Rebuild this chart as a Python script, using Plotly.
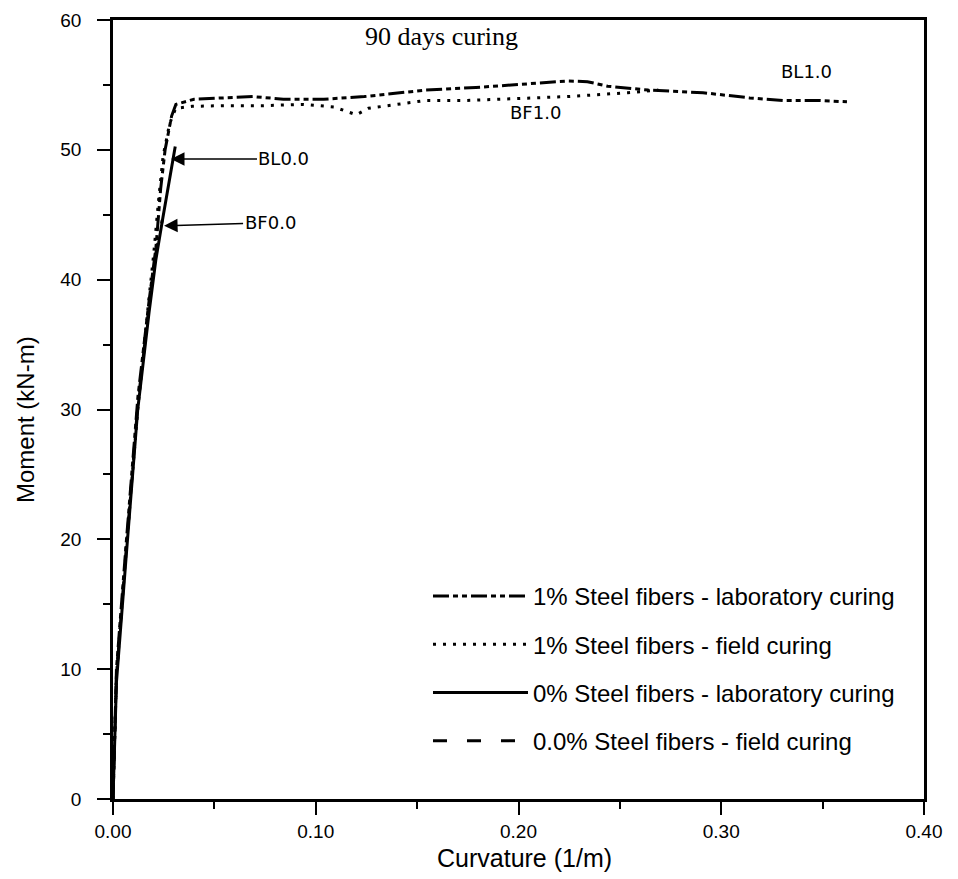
import plotly.graph_objects as go

# ---- data (corrected for the slight tilt of the scan) ----
bl1_x = [0, 0.0017, 0.0064, 0.0123, 0.0179, 0.0212, 0.0235, 0.0257, 0.0289, 0.0310, 0.040,
         0.054, 0.069, 0.084, 0.104, 0.124, 0.154, 0.179, 0.204, 0.224, 0.234, 0.244, 0.264,
         0.291, 0.314, 0.331, 0.349, 0.362]
bl1_y = [0, 10, 19.5, 31, 38.5, 42.5, 47, 50, 52.6, 53.5, 53.9, 54.0, 54.1, 53.9, 53.9, 54.1,
         54.6, 54.8, 55.1, 55.3, 55.25, 54.9, 54.6, 54.4, 54.0, 53.8, 53.8, 53.7]

bf1_x = [0, 0.0017, 0.0064, 0.0122, 0.0167, 0.0201, 0.0224, 0.0247, 0.0279, 0.0309, 0.039,
         0.054, 0.074, 0.094, 0.109, 0.116, 0.120, 0.126, 0.139, 0.154, 0.174, 0.194, 0.224,
         0.254, 0.269]
bf1_y = [0, 9.5, 19, 30, 37, 42, 46, 49.5, 52, 53.2, 53.35, 53.4, 53.4, 53.5, 53.3, 52.9, 52.7,
         53.2, 53.5, 53.8, 53.8, 53.9, 54.1, 54.4, 54.6]

bl0_x = [0, 0.0017, 0.0064, 0.0122, 0.0178, 0.0211, 0.0243, 0.0275, 0.0307]
bl0_y = [0, 9, 18.5, 30, 37.5, 41.5, 44.5, 47.5, 50.25]

bf0_x = [0, 0.0017, 0.0064, 0.0123, 0.0178, 0.0211, 0.0243]
bf0_y = [0, 9.5, 19, 30.5, 38, 42, 44.6]

series_names = [
    "1% Steel fibers - laboratory curing",
    "1% Steel fibers - field curing",
    "0% Steel fibers - laboratory curing",
    "0.0% Steel fibers - field curing",
]

x_ticks = [0.0, 0.1, 0.2, 0.3, 0.4]
x_tick_labels = ["0.00", "0.10", "0.20", "0.30", "0.40"]
y_ticks = [0, 10, 20, 30, 40, 50, 60]

fig = go.Figure()
styles = [
    dict(dash="16px,4px,5px,4px,5px,4px", width=3),
    dict(dash="3px,7px", width=3),
    dict(dash="solid", width=3),
    dict(dash="14px,20px", width=3),
]
data = [(bl1_x, bl1_y), (bf1_x, bf1_y), (bl0_x, bl0_y), (bf0_x, bf0_y)]
for i, ((xs, ys), nm, st) in enumerate(zip(data, series_names, styles)):
    fig.add_trace(go.Scatter(
        x=xs, y=ys, mode="lines", name=nm, legendgroup=f"g{i}",
        line=dict(color="black", width=st["width"], dash=st["dash"]),
    ))

label_font = dict(family="DejaVu Sans", size=18, color="black")
fig.add_annotation(x=0.342, y=56.0, text="BL1.0", showarrow=False, font=label_font)
fig.add_annotation(x=0.2086, y=52.85, text="BF1.0", showarrow=False, font=label_font)
fig.add_annotation(x=0.0286, y=49.3, text="BL0.0", showarrow=True, ax=113, ay=0,
                   arrowhead=2, arrowsize=1.8, arrowwidth=1.5, arrowcolor="black",
                   font=label_font)
fig.add_annotation(x=0.0252, y=44.15, text="BF0.0", showarrow=True, ax=106, ay=-3,
                   arrowhead=2, arrowsize=1.8, arrowwidth=1.5, arrowcolor="black",
                   font=label_font)
fig.add_annotation(x=0.1618, y=58.7, text="90 days curing", showarrow=False,
                   font=dict(family="Liberation Serif", size=26, color="black"))

# axis titles
fig.add_annotation(x=0.508, y=-0.0757, xref="paper", yref="paper", text="Curvature (1/m)",
                   showarrow=False, xanchor="center", yanchor="middle",
                   font=dict(family="Liberation Sans", size=25, color="black"))
fig.add_annotation(x=-0.1085, y=0.4865, xref="paper", yref="paper", text="Moment (kN-m)",
                   showarrow=False, xanchor="center", yanchor="middle", textangle=-90,
                   font=dict(family="Liberation Sans", size=24, color="black"))

axis_common = dict(
    showline=True, linecolor="black", linewidth=2.5, mirror=True,
    ticks="outside", ticklen=13, tickwidth=2, tickcolor="black",
    showgrid=False, zeroline=False, automargin=False, ticklabeloverflow="allow",
    tickfont=dict(family="Liberation Sans", size=19, color="black"),
)
fig.update_xaxes(
    range=[0, 0.40], tickvals=x_ticks, ticktext=x_tick_labels,
    minor=dict(dtick=0.05, ticks="outside", ticklen=7, tickwidth=2, tickcolor="black"),
    **axis_common,
)
fig.update_yaxes(
    range=[0, 60], tickvals=y_ticks, ticklabelstandoff=12,
    minor=dict(dtick=5, ticks="outside", ticklen=7, tickwidth=2, tickcolor="black"),
    **axis_common,
)

fig.update_layout(
    width=950, height=871,
    margin=dict(l=105, r=34, t=12, b=80),
    paper_bgcolor="white", plot_bgcolor="white",
    showlegend=True,
    legend=dict(
        x=0.3884, y=0.2888, xanchor="left", yanchor="top",
        font=dict(family="Liberation Sans", size=24, color="black"),
        itemwidth=95, tracegroupgap=14, traceorder="grouped",
        bgcolor="rgba(0,0,0,0)",
    ),
)

fig.write_html("out.html")
